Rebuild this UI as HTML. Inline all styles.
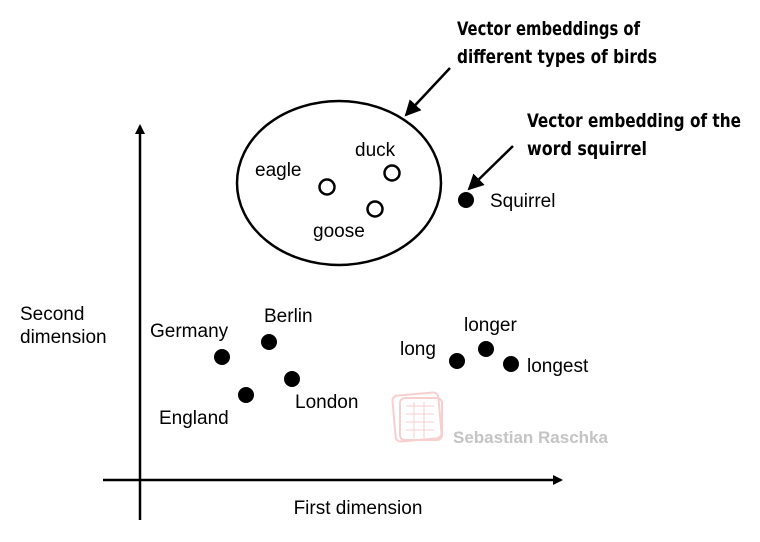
<!DOCTYPE html>
<html><head><meta charset="utf-8"><style>
html,body{margin:0;padding:0;background:#fff;width:760px;height:542px;overflow:hidden}
</style></head><body>
<svg width="760" height="542" viewBox="0 0 760 542" xmlns="http://www.w3.org/2000/svg" font-family="Liberation Sans, sans-serif">
<defs><marker id="a" markerWidth="10" markerHeight="10" refX="8" refY="5" orient="auto" markerUnits="userSpaceOnUse"><path d="M0,0 L10,5 L0,10 z" fill="#000"/></marker>
<marker id="b" markerWidth="16" markerHeight="16" refX="14" refY="8" orient="auto" markerUnits="userSpaceOnUse"><path d="M0,0 L16,8 L0,16 z" fill="#000"/></marker></defs>
<line x1="140" y1="520" x2="140" y2="126" stroke="#000" stroke-width="2.5" marker-end="url(#a)"/>
<line x1="103" y1="480" x2="561" y2="480" stroke="#000" stroke-width="2.5" marker-end="url(#a)"/>
<text x="20" y="320" font-size="19">Second</text>
<text x="20" y="343" font-size="19">dimension</text>
<text x="358" y="514" font-size="19" text-anchor="middle">First dimension</text>
<ellipse cx="339" cy="183" rx="102" ry="82" fill="none" stroke="#000" stroke-width="2.5"/>
<circle cx="327" cy="187" r="7.5" fill="none" stroke="#000" stroke-width="2.5"/>
<circle cx="392" cy="173" r="7.5" fill="none" stroke="#000" stroke-width="2.5"/>
<circle cx="375" cy="209" r="7.5" fill="none" stroke="#000" stroke-width="2.5"/>
<text x="255" y="176" font-size="19">eagle</text>
<text x="355" y="156" font-size="19">duck</text>
<text x="313" y="237" font-size="19">goose</text>
<circle cx="466" cy="200" r="8" fill="#000"/>
<text x="490" y="207" font-size="19">Squirrel</text>
<line x1="450" y1="68" x2="406" y2="115" stroke="#000" stroke-width="2.5" marker-end="url(#b)"/>
<line x1="513" y1="146" x2="469" y2="189" stroke="#000" stroke-width="2.5" marker-end="url(#b)"/>
<g font-family="DejaVu Sans Condensed, sans-serif" font-weight="bold" font-size="19" lengthAdjust="spacingAndGlyphs">
<text x="457" y="35" textLength="183" lengthAdjust="spacingAndGlyphs">Vector embeddings of</text>
<text x="457" y="63" textLength="200" lengthAdjust="spacingAndGlyphs">different types of birds</text>
<text x="527" y="127" textLength="214" lengthAdjust="spacingAndGlyphs">Vector embedding of the</text>
<text x="527" y="155" textLength="120" lengthAdjust="spacingAndGlyphs">word squirrel</text>
</g>
<circle cx="222" cy="357" r="8" fill="#000"/>
<circle cx="269" cy="342" r="8" fill="#000"/>
<circle cx="246" cy="395" r="8" fill="#000"/>
<circle cx="292" cy="379" r="8" fill="#000"/>
<text x="150" y="337" font-size="19">Germany</text>
<text x="264" y="322" font-size="19">Berlin</text>
<text x="159" y="424" font-size="19">England</text>
<text x="295" y="408" font-size="19">London</text>
<circle cx="457" cy="361" r="8" fill="#000"/>
<circle cx="486" cy="349" r="8" fill="#000"/>
<circle cx="511" cy="364" r="8" fill="#000"/>
<text x="400" y="355" font-size="19">long</text>
<text x="464" y="331" font-size="19">longer</text>
<text x="527" y="372" font-size="19">longest</text>
<g opacity="0.5" stroke="#f2a0a0" fill="none" stroke-width="2">
<rect x="394" y="394" width="46" height="46" rx="5" transform="rotate(-5 417 417)"/>
<rect x="400" y="398" width="42" height="42" rx="5"/>
<path d="M406 406h28M406 414h28M406 422h28M406 430h28M414 402v36M424 402v36" stroke-width="1"/>
</g>
<text x="453" y="443" font-size="17" font-weight="bold" fill="#c4c4c4">Sebastian Raschka</text>
</svg>
</body></html>
